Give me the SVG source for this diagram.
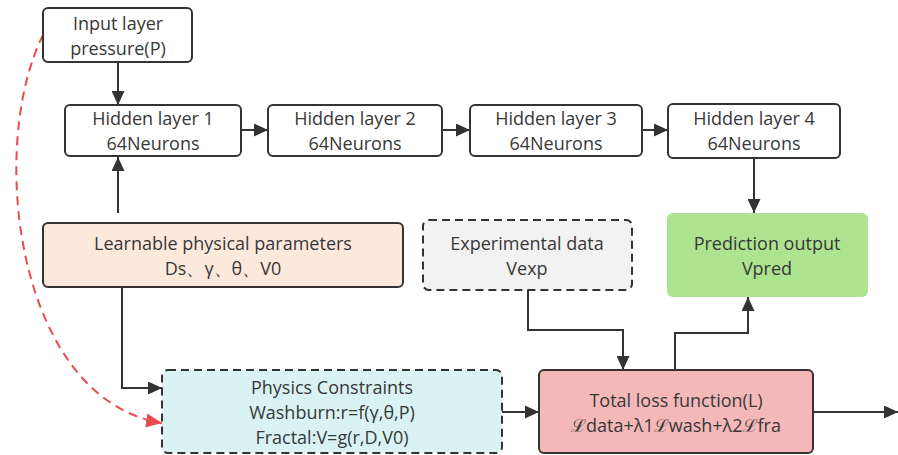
<svg xmlns="http://www.w3.org/2000/svg" width="898" height="455" viewBox="0 0 898 455">
<style>
.box{stroke:#333;stroke-width:2;}
.dash{stroke-dasharray:8 5;}
text{font-family:"Open Sans","Noto Sans","DejaVu Sans",sans-serif;font-size:18px;fill:#383838;text-anchor:middle;dominant-baseline:central;}
.c{fill:none;stroke:#333;stroke-width:2;}
.r{fill:none;stroke:#e84c4c;stroke-width:2;stroke-dasharray:9 6;}
</style>
<defs>
<marker id="a" markerUnits="userSpaceOnUse" markerWidth="14" markerHeight="13" refX="14" refY="6.5" orient="auto"><path d="M0,0 L14,6.5 L0,13 z" fill="#333"/></marker>
<marker id="ar" markerUnits="userSpaceOnUse" markerWidth="16" markerHeight="14" refX="16" refY="7" orient="auto"><path d="M0,0 L16,7 L0,14 z" fill="#e84c4c"/></marker>
</defs>
<g id="connectors">
<path class="c" d="M118,62 V105" marker-end="url(#a)"/>
<path class="c" d="M118,213 V157" marker-end="url(#a)"/>
<path class="c" d="M241,130 H268" marker-end="url(#a)"/>
<path class="c" d="M442,130 H470" marker-end="url(#a)"/>
<path class="c" d="M642,130 H668" marker-end="url(#a)"/>
<path class="c" d="M754,158 V213" marker-end="url(#a)"/>
<path class="c" d="M122,287 V388 H162" marker-end="url(#a)"/>
<path class="c" d="M528,290 V330 H623 V370" marker-end="url(#a)"/>
<path class="c" d="M675,370 V333 H748 V297" marker-end="url(#a)"/>
<path class="c" d="M502,412 H539" marker-end="url(#a)"/>
<path class="c" d="M813,412 H898" marker-end="url(#a)"/>
<path class="r" d="M43,35 C-14,150 18,400 162,423" marker-end="url(#ar)"/>
</g>
<g id="input">
<rect class="box" x="43" y="8" width="149" height="54" rx="5" fill="#fff"/>
<text x="118" y="23">Input layer</text>
<text x="118" y="48">pressure(P)</text>
</g>
<g id="hidden1">
<rect class="box" x="65" y="105" width="176" height="51" rx="5" fill="#fff"/>
<text x="153" y="118">Hidden layer 1</text>
<text x="153" y="143">64Neurons</text>
</g>
<g id="hidden2">
<rect class="box" x="268" y="105" width="174" height="51" rx="5" fill="#fff"/>
<text x="355" y="118">Hidden layer 2</text>
<text x="355" y="143">64Neurons</text>
</g>
<g id="hidden3">
<rect class="box" x="470" y="105" width="172" height="51" rx="5" fill="#fff"/>
<text x="556" y="118">Hidden layer 3</text>
<text x="556" y="143">64Neurons</text>
</g>
<g id="hidden4">
<rect class="box" x="668" y="104" width="172" height="54" rx="5" fill="#fff"/>
<text x="754" y="118">Hidden layer 4</text>
<text x="754" y="143">64Neurons</text>
</g>
<g id="prediction">
<rect x="667" y="213" width="201" height="84" rx="6" fill="#aee38f"/>
<text x="767" y="243">Prediction output</text>
<text x="767" y="268">Vpred</text>
</g>
<g id="learnable">
<rect class="box" x="43" y="223" width="360" height="64" rx="5" fill="#fce9dc"/>
<text x="223" y="243">Learnable physical parameters</text>
<text x="223" y="268">Ds、γ、θ、V0</text>
</g>
<g id="experimental">
<rect class="box dash" x="423" y="220" width="209" height="70" rx="6" fill="#f2f2f2"/>
<text x="527" y="243">Experimental data</text>
<text x="527" y="268">Vexp</text>
</g>
<g id="physics">
<rect class="box dash" x="162" y="370" width="340" height="83" rx="6" fill="#d9f3f3"/>
<text x="332" y="387">Physics Constraints</text>
<text x="332" y="412">Washburn:r=f(γ,θ,P)</text>
<text x="332" y="437">Fractal:V=g(r,D,V0)</text>
</g>
<g id="loss">
<rect class="box" x="539" y="370" width="274" height="83" rx="5" fill="#f4b8b8"/>
<text x="676" y="400">Total loss function(L)</text>
<text x="676" y="425">ℒdata+λ1ℒwash+λ2ℒfra</text>
</g>
</svg>
